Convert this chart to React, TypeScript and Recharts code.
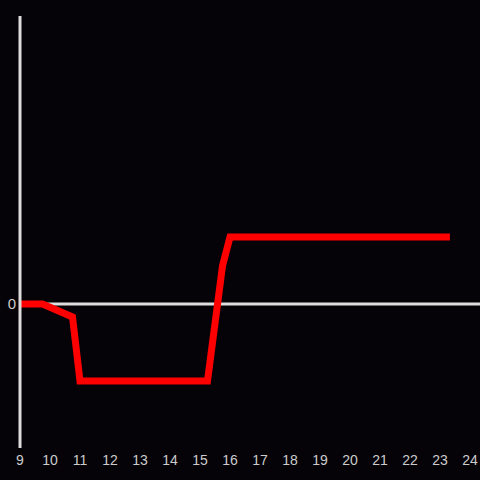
import { LineChart, Line, XAxis, YAxis, ReferenceLine } from 'recharts'

const hours = [9, 9.75, 10.75, 11, 15.25, 15.75, 16, 23.33]
const values = [0, 0, -0.09, -0.535, -0.535, 0.264, 0.465, 0.465]
const xTicks = [9, 10, 11, 12, 13, 14, 15, 16, 17, 18, 19, 20, 21, 22, 23, 24]

const data = hours.map((h, i) => ({ hour: h, value: values[i] }))

export default function App() {
  return (
    <div style={{ position: 'fixed', top: 0, left: 0, width: 480, height: 480, background: '#050308' }}>
      <LineChart width={480} height={480} data={data} margin={{ top: 16, right: 0, left: 0, bottom: 0 }}>
        <XAxis
          dataKey="hour"
          type="number"
          domain={[9, 24.333]}
          allowDataOverflow
          ticks={xTicks}
          axisLine={false}
          tickLine={false}
          tickSize={5}
          height={32}
          tick={{ fill: '#cccccc', fontSize: 14, fontFamily: 'Liberation Sans, Arial, sans-serif' }}
        />
        <YAxis
          type="number"
          domain={[-1, 2]}
          ticks={[0]}
          width={20}
          axisLine={{ stroke: '#dddddd', strokeWidth: 3 }}
          tickLine={false}
          tickSize={2}
          tick={{ fill: '#cccccc', fontSize: 15, fontFamily: 'Liberation Sans, Arial, sans-serif' }}
        />
        <ReferenceLine y={0} stroke="#dddddd" strokeWidth={3} />
        <Line
          type="linear"
          dataKey="value"
          stroke="#ff0000"
          strokeWidth={7}
          dot={false}
          isAnimationActive={false}
        />
      </LineChart>
    </div>
  )
}
